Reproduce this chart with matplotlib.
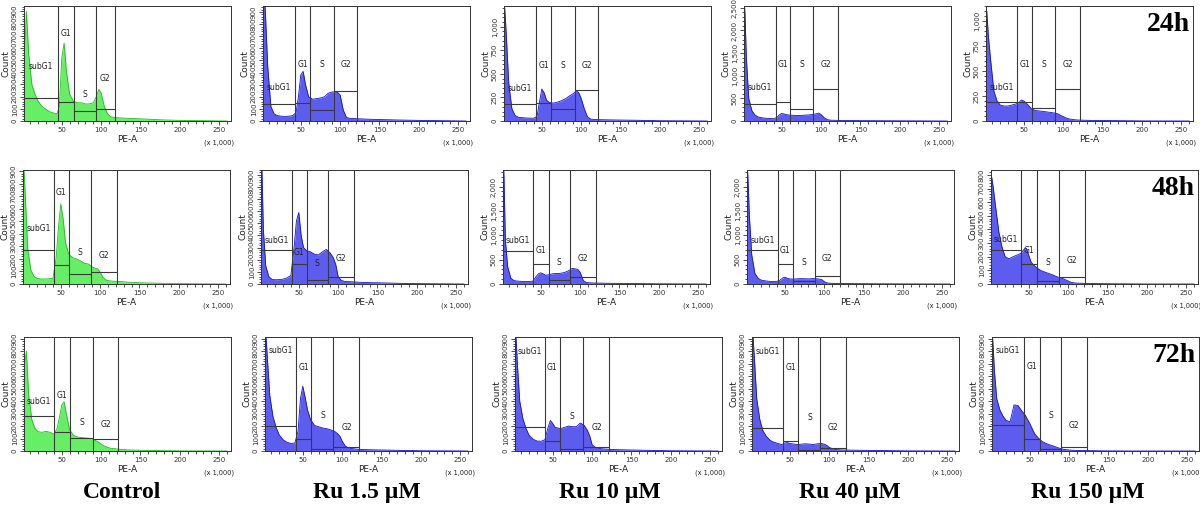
import matplotlib
matplotlib.use('Agg')
import matplotlib.pyplot as plt
import matplotlib.transforms as mtransforms
from matplotlib.ticker import MultipleLocator, FuncFormatter

PE_A = [1, 3, 5, 8, 12, 16, 20, 25, 30, 35, 40, 44, 47, 50, 53, 56, 60, 65, 70, 75,
        80, 85, 90, 94, 97, 100, 104, 108, 112, 118, 125, 135, 150, 175, 200, 260]

TIMES = ['24h', '48h', '72h']
TREATMENTS = ['Control', 'Ru 1.5 µM', 'Ru 10 µM', 'Ru 40 µM', 'Ru 150 µM']
GATE_NAMES = ['subG1', 'G1', 'S', 'G2']

# counts, row 24h
CTRL_24 = [200, 600, 900, 550, 300, 220, 160, 120, 95, 75, 65, 60, 120, 520, 640, 400, 220, 160, 150, 150,
           140, 140, 150, 200, 260, 230, 120, 60, 35, 28, 25, 22, 18, 10, 5, 0]
RU1_5_24 = [300, 1100, 900, 450, 120, 60, 45, 40, 38, 40, 45, 70, 200, 380, 410, 300, 200, 180, 185, 190,
            200, 230, 240, 240, 235, 215, 90, 30, 22, 20, 18, 15, 12, 8, 5, 0]
RU10_24 = [400, 1200, 900, 400, 130, 60, 40, 35, 32, 30, 30, 50, 200, 340, 300, 220, 195, 190, 200, 215,
           235, 265, 290, 320, 300, 240, 130, 45, 20, 15, 14, 12, 10, 7, 3, 0]
RU40_24 = [1500, 2500, 1400, 500, 230, 130, 90, 70, 60, 55, 50, 80, 140, 165, 155, 140, 130, 125, 120, 125,
           130, 135, 145, 160, 175, 140, 70, 30, 18, 15, 12, 10, 8, 6, 4, 0]
RU150_24 = [700, 1100, 850, 600, 300, 200, 160, 150, 150, 160, 170, 185, 210, 200, 180, 155, 120, 105, 100, 95,
            90, 85, 78, 70, 55, 45, 30, 20, 15, 10, 8, 6, 5, 3, 1, 0]

# counts, row 48h
CTRL_48 = [300, 950, 700, 280, 110, 60, 45, 40, 40, 42, 45, 200, 450, 640, 520, 330, 240, 210, 200, 185,
           165, 160, 135, 125, 120, 95, 50, 30, 25, 22, 20, 15, 10, 6, 3, 0]
RU1_5_48 = [400, 1000, 450, 150, 60, 38, 35, 36, 40, 50, 70, 300, 520, 590, 400, 300, 275, 265, 245, 240,
            265, 285, 255, 215, 160, 60, 30, 22, 20, 18, 15, 12, 10, 6, 3, 0]
RU10_48 = [1000, 2400, 900, 350, 120, 70, 60, 55, 50, 50, 60, 150, 210, 230, 210, 180, 190, 210, 215, 220,
           235, 270, 320, 310, 300, 240, 70, 30, 25, 20, 18, 15, 12, 8, 4, 0]
RU40_48 = [800, 2300, 1400, 600, 220, 120, 80, 65, 55, 50, 55, 80, 120, 140, 120, 105, 100, 105, 110, 108,
           105, 110, 108, 100, 90, 50, 22, 15, 12, 10, 10, 8, 6, 4, 2, 0]
RU150_48 = [820, 780, 700, 560, 380, 270, 200, 185, 200, 212, 225, 255, 262, 210, 160, 140, 120, 100, 88, 78,
            68, 55, 45, 38, 30, 22, 12, 8, 6, 5, 4, 3, 2, 1, 0, 0]

# counts, row 72h
CTRL_72 = [300, 700, 800, 450, 250, 180, 155, 150, 158, 150, 135, 180, 270, 370, 395, 290, 170, 125, 112, 108,
           105, 102, 95, 80, 70, 55, 40, 30, 22, 18, 12, 9, 6, 3, 1, 0]
RU1_5_72 = [500, 950, 750, 450, 280, 190, 130, 90, 70, 60, 65, 160, 420, 520, 430, 330, 250, 205, 195, 185,
            180, 170, 160, 140, 120, 80, 40, 25, 20, 15, 12, 10, 8, 5, 2, 0]
RU10_72 = [600, 950, 700, 400, 260, 180, 125, 95, 80, 78, 90, 190, 245, 220, 190, 185, 180, 190, 200, 195,
           195, 225, 205, 165, 120, 50, 30, 22, 18, 15, 12, 10, 8, 5, 2, 0]
RU40_72 = [700, 950, 750, 420, 250, 160, 120, 85, 70, 60, 52, 65, 68, 60, 58, 55, 52, 55, 58, 55,
           52, 58, 60, 55, 45, 30, 18, 12, 10, 8, 7, 6, 5, 3, 1, 0]
RU150_72 = [400, 900, 650, 420, 330, 280, 245, 235, 370, 365, 320, 290, 255, 220, 180, 140, 110, 80, 62, 50,
            40, 28, 18, 12, 10, 8, 6, 5, 4, 3, 3, 2, 1, 0, 0, 0]

COUNTS = [[CTRL_24, RU1_5_24, RU10_24, RU40_24, RU150_24],
          [CTRL_48, RU1_5_48, RU10_48, RU40_48, RU150_48],
          [CTRL_72, RU1_5_72, RU10_72, RU40_72, RU150_72]]

# gate boundaries (x 1,000): end of subG1, G1, S, G2
GATE_EDGES = [[[45, 65, 93, 117], [43, 62, 92, 122], [43, 62, 92, 122], [42.5, 61, 90, 122], [42, 60, 90, 121]],
              [[41, 60.5, 88, 121], [41, 60, 87, 120], [40, 60, 87, 120], [41, 60, 88, 120], [40.5, 60, 88, 122]],
              [[39.5, 61, 90, 122], [42, 61, 89, 122], [40, 59, 89, 122], [42, 61, 89, 121], [43, 62.5, 90, 123]]]
# gate floor levels (counts): subG1, G1, S, G2
GATE_LEVELS = [[[187, 160, 85, 99], [139, 147, 92, 250], [185, 193, 125, 328], [383, 413, 263, 698], [187, 194, 126, 323]],
               [[274, 155, 76, 97], [277, 166, 33, 61], [685, 404, 89, 144], [705, 418, 68, 158], [249, 144, 24, 54]],
               [[278, 156, 104, 96], [198, 94, 18, 34], [190, 81, 13, 29], [188, 81, 12, 23], [205, 94, 18, 34]]]

# y axis: top and major tick step
Y_TOP = [[945, 950, 1220, 2540, 1150], [910, 940, 2340, 2340, 836], [915, 915, 915, 915, 915]]
Y_STEP = [[100, 100, 250, 500, 250], [100, 100, 500, 500, 100], [100, 100, 100, 100, 100]]

# label heights (axes fraction) for subG1, G1, S, G2
LABEL_Y = [[[0.47, 0.76, 0.23, 0.37], [0.29, 0.49, 0.49, 0.49], [0.28, 0.48, 0.48, 0.48], [0.29, 0.49, 0.49, 0.49], [0.29, 0.49, 0.49, 0.49]],
           [[0.49, 0.80, 0.28, 0.25], [0.38, 0.28, 0.18, 0.22], [0.38, 0.29, 0.19, 0.22], [0.38, 0.29, 0.19, 0.22], [0.39, 0.29, 0.19, 0.21]],
           [[0.43, 0.49, 0.25, 0.23], [0.88, 0.73, 0.31, 0.21], [0.87, 0.73, 0.30, 0.21], [0.87, 0.73, 0.29, 0.21], [0.88, 0.74, 0.31, 0.22]]]

W, H = 1200, 505
ROWS_PX = [(6, 121), (170, 284), (337, 451)]
LEFTS_PX = [[24, 263, 504, 744, 986], [23, 261, 503, 747, 991], [24, 265, 515, 752, 992]]
AX_W = 207
XMIN, XMAX = 2, 265

GREEN = ('#66EE66', '#22BB22')
BLUE = ('#5C5CEE', '#1414C8')
LINE = '#3a3a3a'

fig = plt.figure(figsize=(12, 5.05), dpi=100)

for r in range(3):
    top, bot = ROWS_PX[r]
    for c in range(5):
        left = LEFTS_PX[r][c]
        ax = fig.add_axes([left / W, 1 - bot / H, AX_W / W, (bot - top) / H])
        fill, edge = GREEN if c == 0 else BLUE
        y = COUNTS[r][c]
        ymax = Y_TOP[r][c]
        ax.fill_between(PE_A, y, 0, color=fill, lw=0, zorder=1)
        ax.plot(PE_A, y, color=edge, lw=0.6, zorder=2)
        ax.set_xlim(XMIN, XMAX)
        ax.set_ylim(0, ymax)

        edges = GATE_EDGES[r][c]
        lo = [XMIN] + edges[:-1]
        ax.vlines(edges, 0, ymax, color=LINE, lw=0.8, zorder=3)
        ax.hlines(GATE_LEVELS[r][c], lo, edges, color=LINE, lw=0.8, zorder=3)
        trans = mtransforms.blended_transform_factory(ax.transData, ax.transAxes)
        for name, a, b, fy in zip(GATE_NAMES, lo, edges, LABEL_Y[r][c]):
            ax.text((a + b) / 2, fy, name, transform=trans, ha='center', va='center',
                    fontsize=5.5, color='#222222', zorder=4)

        ax.xaxis.set_major_locator(MultipleLocator(50))
        ax.xaxis.set_minor_locator(MultipleLocator(10))
        step = Y_STEP[r][c]
        ax.yaxis.set_major_locator(MultipleLocator(step))
        ax.yaxis.set_minor_locator(MultipleLocator(step / 5))
        ax.yaxis.set_major_formatter(FuncFormatter(lambda v, p: f'{v:,.0f}'))
        ax.xaxis.set_major_formatter(FuncFormatter(lambda v, p: '' if v <= 0 else f'{v:.0f}'))
        ax.tick_params(which='both', direction='out', width=0.6, colors='#333333', labelsize=5, pad=1.5)
        ax.tick_params(which='major', length=3)
        ax.tick_params(which='minor', length=1.8)
        for lab in ax.get_yticklabels():
            lab.set_rotation(90)
            lab.set_va('center')
        for s in ax.spines.values():
            s.set_linewidth(0.7)
            s.set_color('#333333')
        ax.set_xlabel('PE-A', fontsize=6.5, labelpad=1, color='#222222')
        ax.set_ylabel('Count', fontsize=6.5, labelpad=1, color='#222222')
        ax.text(250, -0.19, '(x 1,000)', transform=trans, ha='center', va='center',
                fontsize=4.8, color='#222222')
        if c == 4:
            ax.text(0.985, 0.95, TIMES[r], transform=ax.transAxes, ha='right', va='top',
                    fontsize=20, fontweight='bold', family='Liberation Serif', zorder=5)

LABEL_X = [122, 367, 610, 850, 1088]
for name, xc in zip(TREATMENTS, LABEL_X):
    fig.text(xc / W, 7 / H, name, ha='center', va='baseline', fontsize=17,
             fontweight='bold', family='Liberation Serif')

fig.savefig('out.png', dpi=100)
